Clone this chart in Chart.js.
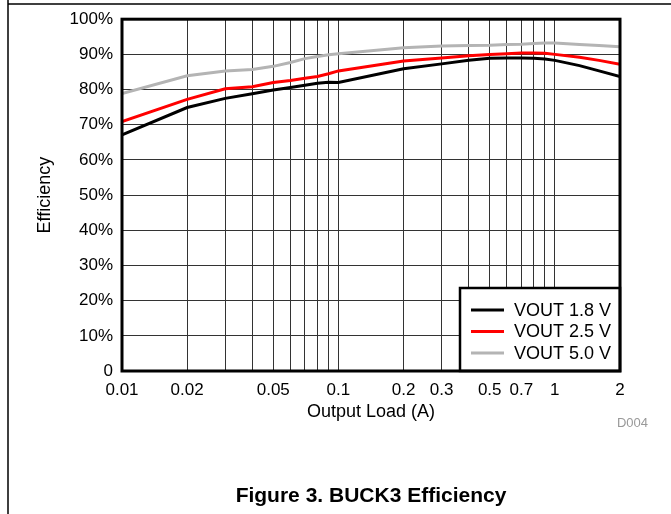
<!DOCTYPE html>
<html>
<head>
<meta charset="utf-8">
<script src="https://cdn.jsdelivr.net/npm/chart.js@4"></script>
<style>
    body { margin: 0; background: #fff; }
    #wrap { position: relative; width: 671px; height: 514px; }
</style>
</head>
<body>
<div id="wrap"><canvas id="chart"></canvas></div>
<script>
// load points (A)
const loadA = [0.01, 0.02, 0.03, 0.04, 0.05, 0.06, 0.07, 0.08, 0.09, 0.1, 0.2, 0.3, 0.4, 0.5, 0.6, 0.7, 0.8, 0.9, 1, 1.3, 1.6, 2];
// efficiency in %
const vout18 = [67.1, 74.9, 77.5, 78.8, 79.9, 80.6, 81.2, 81.8, 82.1, 82.0, 85.9, 87.3, 88.3, 88.9, 89.0, 89.0, 88.9, 88.7, 88.3, 86.8, 85.3, 83.7];
const vout25 = [70.9, 77.2, 80.2, 80.8, 82.0, 82.6, 83.2, 83.7, 84.5, 85.3, 88.1, 89.0, 89.6, 90.0, 90.2, 90.4, 90.4, 90.3, 90.0, 89.2, 88.3, 87.2];
const vout50 = [78.9, 83.9, 85.3, 85.7, 86.6, 87.7, 88.8, 89.4, 89.9, 90.2, 91.9, 92.4, 92.5, 92.6, 92.8, 92.9, 93.1, 93.2, 93.2, 92.8, 92.5, 92.2];
const seriesNames = ['VOUT 1.8 V', 'VOUT 2.5 V', 'VOUT 5.0 V'];
// x grid lines and the ones that get a label
const xGrid = [0.01, 0.02, 0.03, 0.04, 0.05, 0.06, 0.07, 0.08, 0.09, 0.1, 0.2, 0.3, 0.4, 0.5, 0.6, 0.7, 0.8, 0.9, 1, 2];
const xLabels = [0.01, 0.02, 0.05, 0.1, 0.2, 0.3, 0.5, 0.7, 1, 2];

const FONT = "'Liberation Sans', Arial, sans-serif";

function pts(vals) {
    return loadA.map(function (x, i) { return { x: x, y: vals[i] }; });
}

// frame, legend box, caption
const decorPlugin = {
    id: 'decor',
    afterDraw: function (chart) {
        const ctx = chart.ctx;
        const a = chart.chartArea;
        ctx.save();

        // page border
        ctx.strokeStyle = '#000';
        ctx.lineWidth = 1.5;
        ctx.beginPath();
        ctx.moveTo(8, 0);
        ctx.lineTo(8, 514);
        ctx.moveTo(8, 4);
        ctx.lineTo(671, 4);
        ctx.stroke();

        // legend box
        const lx = 460, ly = 288, lw = a.right - 460, lh = a.bottom - 288;
        ctx.fillStyle = '#fff';
        ctx.fillRect(lx, ly, lw, lh);
        ctx.lineWidth = 2.5;
        ctx.strokeRect(lx, ly, lw, lh);
        ctx.font = '18px ' + FONT;
        ctx.textBaseline = 'middle';
        chart.data.datasets.forEach(function (ds, i) {
            const y = 310 + i * 21.5;
            ctx.strokeStyle = ds.borderColor;
            ctx.lineWidth = 3;
            ctx.beginPath();
            ctx.moveTo(471, y);
            ctx.lineTo(504, y);
            ctx.stroke();
            ctx.fillStyle = '#000';
            ctx.fillText(ds.label, 514, y + 1);
        });

        // plot frame
        ctx.strokeStyle = '#000';
        ctx.lineWidth = 3;
        ctx.strokeRect(a.left, a.top, a.right - a.left, a.bottom - a.top);

        ctx.fillStyle = '#999';
        ctx.font = '13px ' + FONT;
        ctx.textAlign = 'right';
        ctx.fillText('D004', 648, 423);

        ctx.fillStyle = '#000';
        ctx.font = 'bold 21px ' + FONT;
        ctx.textAlign = 'center';
        ctx.fillText('Figure 3. BUCK3 Efficiency', 371, 496);
        ctx.restore();
    }
};

const ctx = document.getElementById('chart').getContext('2d');
new Chart(ctx, {
    type: 'line',
    data: {
        datasets: [
            { label: seriesNames[0], data: pts(vout18), borderColor: '#000000' },
            { label: seriesNames[1], data: pts(vout25), borderColor: '#ff0000' },
            { label: seriesNames[2], data: pts(vout50), borderColor: '#b4b4b4' }
        ]
    },
    options: {
        responsive: true,
        maintainAspectRatio: false,
        animation: false,
        layout: { padding: { left: 0, top: 18, right: 51, bottom: 91 } },
        elements: {
            line: { borderWidth: 3, tension: 0 },
            point: { radius: 0 }
        },
        plugins: {
            legend: { display: false },
            tooltip: { enabled: false }
        },
        scales: {
            x: {
                type: 'logarithmic',
                min: 0.01,
                max: 2,
                afterBuildTicks: function (scale) {
                    scale.ticks = xGrid.map(function (v) { return { value: v }; });
                },
                afterFit: function (scale) { scale.height = 52; },
                grid: { color: '#333', lineWidth: 1, drawTicks: false },
                border: { display: false },
                ticks: {
                    autoSkip: false,
                    maxRotation: 0,
                    padding: 9,
                    color: '#000',
                    font: { family: FONT, size: 17 },
                    callback: function (value) {
                        return xLabels.indexOf(value) >= 0 ? String(value) : '';
                    }
                },
                title: {
                    display: true,
                    text: 'Output Load (A)',
                    color: '#000',
                    font: { family: FONT, size: 18 },
                    padding: { top: 4, bottom: 0 }
                }
            },
            y: {
                min: 0,
                max: 100,
                afterFit: function (scale) { scale.width = 122; },
                grid: { color: '#333', lineWidth: 1, drawTicks: false },
                border: { display: false },
                ticks: {
                    stepSize: 10,
                    padding: 9,
                    color: '#000',
                    font: { family: FONT, size: 17 },
                    callback: function (value) { return value === 0 ? '0' : value + '%'; }
                },
                title: {
                    display: true,
                    text: 'Efficiency',
                    color: '#000',
                    font: { family: FONT, size: 18 },
                    padding: { top: 34, bottom: 0 }
                }
            }
        }
    },
    plugins: [decorPlugin]
});
</script>
</body>
</html>
